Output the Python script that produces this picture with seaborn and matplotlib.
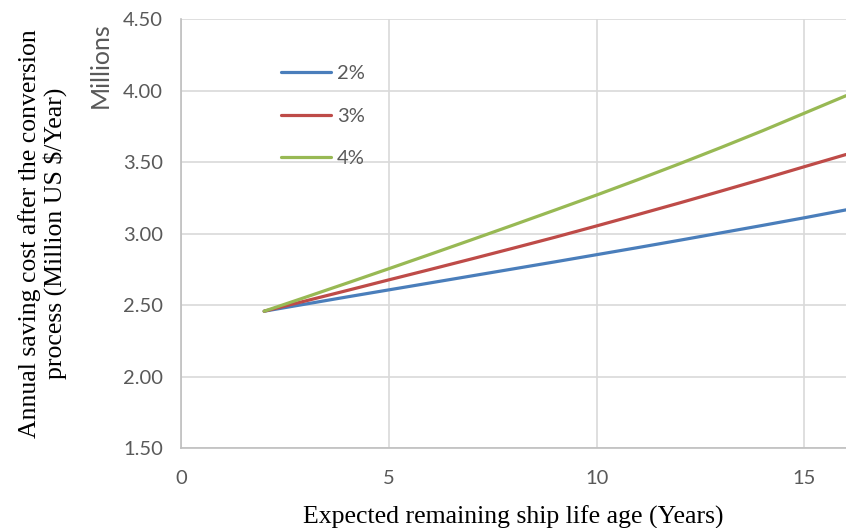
import matplotlib
matplotlib.use("Agg")
import matplotlib.pyplot as plt
import seaborn as sns
import pandas as pd

# Remaining ship life (years) and annual saving (millions USD) per escalation rate
years = [2, 3, 4, 5, 6, 7, 8, 9, 10, 11, 12, 13, 14, 15, 16]
saving_2 = [2.458, 2.508, 2.558, 2.607, 2.656, 2.705, 2.754, 2.803, 2.853,
            2.903, 2.954, 3.006, 3.058, 3.111, 3.166]
saving_3 = [2.458, 2.530, 2.603, 2.677, 2.750, 2.824, 2.899, 2.975, 3.054,
            3.134, 3.215, 3.298, 3.382, 3.468, 3.553]
saving_4 = [2.458, 2.556, 2.655, 2.755, 2.856, 2.958, 3.061, 3.165, 3.270,
            3.378, 3.489, 3.603, 3.720, 3.842, 3.964]
rates = ["2%", "3%", "4%"]

x_ticks = [0, 5, 10, 15]
y_ticks = [1.5, 2.0, 2.5, 3.0, 3.5, 4.0, 4.5]

df = pd.DataFrame({
    "year": years * 3,
    "saving": saving_2 + saving_3 + saving_4,
    "rate": [rates[0]] * len(years) + [rates[1]] * len(years) + [rates[2]] * len(years),
})

sns.set_theme(style="white")
plt.rcParams["font.family"] = ["Lato", "DejaVu Sans"]

palette = {"2%": "#4a7ebb", "3%": "#be4b48", "4%": "#98b954"}

fig = plt.figure(figsize=(8.46, 5.28), dpi=100)
ax = fig.add_axes([0.214, 0.151, 0.786, 0.813])

sns.lineplot(data=df, x="year", y="saving", hue="rate", palette=palette,
             linewidth=2.3, ax=ax, legend=True)

ax.set_xlim(0, 16)
ax.set_ylim(1.5, 4.5)
ax.set_xticks(x_ticks)
ax.set_yticks(y_ticks)
ax.set_yticklabels([f"{v:.2f}" for v in y_ticks])
ax.grid(True, color="#d9d9d9", linewidth=1.2)
ax.set_axisbelow(True)

for side in ["top", "right"]:
    ax.spines[side].set_visible(False)
for side in ["left", "bottom"]:
    ax.spines[side].set_color("#bfbfbf")
    ax.spines[side].set_linewidth(1.2)

ax.tick_params(axis="both", length=0, labelsize=14.5, labelcolor="#595959")
ax.tick_params(axis="y", pad=13)
ax.tick_params(axis="x", pad=16)

serif = {"family": ["Liberation Serif", "DejaVu Serif"], "size": 18.5, "color": "black"}
ax.set_xlabel("Expected remaining ship life age (Years)", fontdict=serif, labelpad=13)
ax.set_ylabel("Annual saving cost after the conversion\nprocess (Million US $/Year)",
              fontdict=serif, labelpad=40, linespacing=1.15)

fig.text(0.118, 0.958, "Millions", rotation=90, ha="center", va="top",
         fontsize=18, color="#595959")

leg = ax.legend(loc="upper left", bbox_to_anchor=(0.150, 0.892), frameon=False,
                fontsize=14.5, handlelength=2.5, handletextpad=0.3,
                labelspacing=1.25, borderpad=0, borderaxespad=0)
for t in leg.get_texts():
    t.set_color("#595959")
for h in leg.get_lines():
    h.set_linewidth(2.3)

fig.savefig("out.png", dpi=100)
